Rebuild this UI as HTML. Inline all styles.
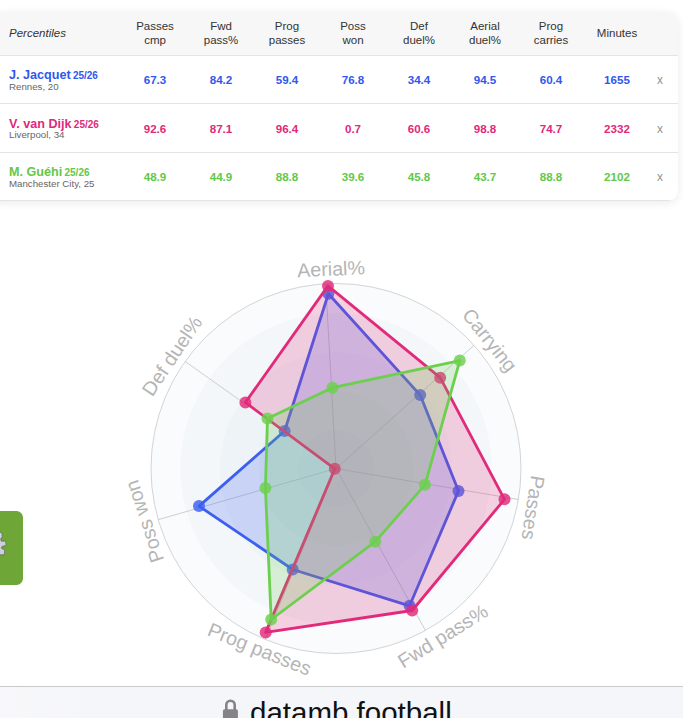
<!DOCTYPE html>
<html><head><meta charset="utf-8"><style>
html,body{margin:0;padding:0;}
body{width:683px;height:718px;overflow:hidden;background:#fff;font-family:"Liberation Sans",sans-serif;position:relative;}
.card{position:absolute;left:-10px;top:12px;width:688px;height:189px;border-radius:10px;background:#fff;box-shadow:0 2px 10px rgba(0,0,0,0.085);overflow:hidden;}
.hdr{position:absolute;left:0;top:0;width:100%;height:43px;background:#f7f7f7;border-bottom:1px solid #e4e4e4;}
.hdr .p{position:absolute;left:19px;top:15px;font-size:11.5px;font-style:italic;color:#333;}
.c{position:absolute;width:66px;text-align:center;font-size:11.5px;line-height:14px;color:#333;top:7px;}
.row{position:absolute;left:0;width:100%;height:47px;border-bottom:1px solid #e4e4e4;}
.n{position:absolute;left:19px;top:12px;white-space:nowrap;}
.nm{font-size:12.6px;font-weight:bold;line-height:14px;}
.nm span{font-size:10px;margin-left:2.3px;}
.sub{font-size:9.7px;color:#666;line-height:10px;margin-top:-1.3px;}
.v{font-weight:bold;font-size:11.6px;color:inherit;top:17px;}
.x{position:absolute;left:660px;width:20px;text-align:center;top:17.3px;font-size:12px;color:#929292;}
.tab{position:absolute;left:-10px;top:511px;width:33px;height:73.5px;border-radius:6.5px;background:#6fa638;}
.bar{position:absolute;left:0;top:685.5px;width:683px;height:33px;background:linear-gradient(90deg,#f8f8fb 0%,#f5f6fa 12%,#f5f6fa 100%);border-top:1px solid #c9cacd;}
.bar .t{position:absolute;left:250px;top:9.4px;font-size:29.5px;line-height:33px;color:#111;white-space:nowrap;}
</style></head><body>
<div class="card">
<div class="hdr"><div class="p">Percentiles</div><div class="c" style="left:132px">Passes<br>cmp</div><div class="c" style="left:198px">Fwd<br>pass%</div><div class="c" style="left:264px">Prog<br>passes</div><div class="c" style="left:330px">Poss<br>won</div><div class="c" style="left:396px">Def<br>duel%</div><div class="c" style="left:462px">Aerial<br>duel%</div><div class="c" style="left:528px">Prog<br>carries</div><div class="c" style="left:594px;top:14px">Minutes</div></div>
<div class="row" style="color:#3058ee;top:44.0px"><div class="n"><div class="nm">J. Jacquet<span>25/26</span></div><div class="sub">Rennes, 20</div></div><div class="c v" style="left:132px">67.3</div><div class="c v" style="left:198px">84.2</div><div class="c v" style="left:264px">59.4</div><div class="c v" style="left:330px">76.8</div><div class="c v" style="left:396px">34.4</div><div class="c v" style="left:462px">94.5</div><div class="c v" style="left:528px">60.4</div><div class="c v" style="left:594px">1655</div><div class="x">x</div></div>
<div class="row" style="color:#e0297a;top:92.5px"><div class="n"><div class="nm">V. van Dijk<span>25/26</span></div><div class="sub">Liverpool, 34</div></div><div class="c v" style="left:132px">92.6</div><div class="c v" style="left:198px">87.1</div><div class="c v" style="left:264px">96.4</div><div class="c v" style="left:330px">0.7</div><div class="c v" style="left:396px">60.6</div><div class="c v" style="left:462px">98.8</div><div class="c v" style="left:528px">74.7</div><div class="c v" style="left:594px">2332</div><div class="x">x</div></div>
<div class="row" style="color:#63c846;top:141.0px"><div class="n"><div class="nm">M. Guéhi<span>25/26</span></div><div class="sub">Manchester City, 25</div></div><div class="c v" style="left:132px">48.9</div><div class="c v" style="left:198px">44.9</div><div class="c v" style="left:264px">88.8</div><div class="c v" style="left:330px">39.6</div><div class="c v" style="left:396px">45.8</div><div class="c v" style="left:462px">43.7</div><div class="c v" style="left:528px">88.8</div><div class="c v" style="left:594px">2102</div><div class="x">x</div></div>

</div>
<svg width="683" height="718" style="position:absolute;left:0;top:0" font-family="Liberation Sans, sans-serif">
<circle cx="336.0" cy="468.5" r="185" fill="rgba(110,160,195,0.045)"/>
<circle cx="336.0" cy="468.5" r="155.6" fill="rgba(110,160,195,0.045)"/>
<circle cx="336.0" cy="468.5" r="116" fill="rgba(110,160,195,0.045)"/>
<circle cx="336.0" cy="468.5" r="77" fill="rgba(110,160,195,0.045)"/>
<circle cx="336.0" cy="468.5" r="38" fill="rgba(110,160,195,0.045)"/>
<circle cx="336.0" cy="468.5" r="185.0" fill="none" stroke="#d2d4d6" stroke-width="1"/>
<line x1="336.0" y1="468.5" x2="325.7" y2="283.8" stroke="#c8c8c8" stroke-width="0.9"/>
<line x1="336.0" y1="468.5" x2="474.0" y2="345.3" stroke="#c8c8c8" stroke-width="0.9"/>
<line x1="336.0" y1="468.5" x2="518.4" y2="499.5" stroke="#c8c8c8" stroke-width="0.9"/>
<line x1="336.0" y1="468.5" x2="425.4" y2="630.4" stroke="#c8c8c8" stroke-width="0.9"/>
<line x1="336.0" y1="468.5" x2="265.2" y2="639.4" stroke="#c8c8c8" stroke-width="0.9"/>
<line x1="336.0" y1="468.5" x2="158.2" y2="519.7" stroke="#c8c8c8" stroke-width="0.9"/>
<line x1="336.0" y1="468.5" x2="185.1" y2="361.4" stroke="#c8c8c8" stroke-width="0.9"/>
<polygon points="328.4,293.8 420.2,395.1 458.5,490.9 409.6,605.8 292.7,569.5 199.0,506.1 284.6,431.0" fill="rgba(60,95,240,0.21)" stroke="#3c5ff0" stroke-width="2.8" stroke-linejoin="round"/>
<circle cx="328.4" cy="293.8" r="6" fill="#3c5ff0" fill-opacity="0.82"/>
<circle cx="420.2" cy="395.1" r="6" fill="#3c5ff0" fill-opacity="0.82"/>
<circle cx="458.5" cy="490.9" r="6" fill="#3c5ff0" fill-opacity="0.82"/>
<circle cx="409.6" cy="605.8" r="6" fill="#3c5ff0" fill-opacity="0.82"/>
<circle cx="292.7" cy="569.5" r="6" fill="#3c5ff0" fill-opacity="0.82"/>
<circle cx="199.0" cy="506.1" r="6" fill="#3c5ff0" fill-opacity="0.82"/>
<circle cx="284.6" cy="431.0" r="6" fill="#3c5ff0" fill-opacity="0.82"/>
<polygon points="328.0,285.9 440.2,377.7 504.5,499.3 412.2,610.5 265.7,632.4 334.8,468.8 245.4,402.5" fill="rgba(225,42,122,0.20)" stroke="#e12a7a" stroke-width="2.8" stroke-linejoin="round"/>
<circle cx="328.0" cy="285.9" r="6" fill="#e12a7a" fill-opacity="0.82"/>
<circle cx="440.2" cy="377.7" r="6" fill="#e12a7a" fill-opacity="0.82"/>
<circle cx="504.5" cy="499.3" r="6" fill="#e12a7a" fill-opacity="0.82"/>
<circle cx="412.2" cy="610.5" r="6" fill="#e12a7a" fill-opacity="0.82"/>
<circle cx="265.7" cy="632.4" r="6" fill="#e12a7a" fill-opacity="0.82"/>
<circle cx="334.8" cy="468.8" r="6" fill="#e12a7a" fill-opacity="0.82"/>
<circle cx="245.4" cy="402.5" r="6" fill="#e12a7a" fill-opacity="0.82"/>
<polygon points="332.5,387.7 459.8,360.6 425.0,484.8 375.3,541.7 271.2,619.5 265.4,487.9 267.5,418.6" fill="rgba(108,207,78,0.21)" stroke="#6ccf4e" stroke-width="2.8" stroke-linejoin="round"/>
<circle cx="332.5" cy="387.7" r="6" fill="#6ccf4e" fill-opacity="0.82"/>
<circle cx="459.8" cy="360.6" r="6" fill="#6ccf4e" fill-opacity="0.82"/>
<circle cx="425.0" cy="484.8" r="6" fill="#6ccf4e" fill-opacity="0.82"/>
<circle cx="375.3" cy="541.7" r="6" fill="#6ccf4e" fill-opacity="0.82"/>
<circle cx="271.2" cy="619.5" r="6" fill="#6ccf4e" fill-opacity="0.82"/>
<circle cx="265.4" cy="487.9" r="6" fill="#6ccf4e" fill-opacity="0.82"/>
<circle cx="267.5" cy="418.6" r="6" fill="#6ccf4e" fill-opacity="0.82"/>
<text x="331.3" y="275.7" transform="rotate(-2.5 331.3 275.7)" text-anchor="middle" font-size="19.7" fill="#b5b5b5">Aerial%</text>
<text x="484.4" y="344.3" transform="rotate(51.5 484.4 344.3)" text-anchor="middle" font-size="19.7" fill="#b5b5b5">Carrying</text>
<text x="526.3" y="506.7" transform="rotate(98.7 526.3 506.7)" text-anchor="middle" font-size="19.7" fill="#b5b5b5">Passes</text>
<text x="446.4" y="641.9" transform="rotate(-32.0 446.4 641.9)" text-anchor="middle" font-size="19.7" fill="#b5b5b5">Fwd pass%</text>
<text x="257.0" y="655.5" transform="rotate(21.9 257.0 655.5)" text-anchor="middle" font-size="19.7" fill="#b5b5b5">Prog passes</text>
<text x="150.9" y="519.3" transform="rotate(251.6 150.9 519.3)" text-anchor="middle" font-size="19.7" fill="#b5b5b5">Poss won</text>
<text x="177.7" y="359.7" transform="rotate(303.9 177.7 359.7)" text-anchor="middle" font-size="19.7" fill="#b5b5b5">Def duel%</text>
</svg>
<div class="tab"></div>
<svg style="position:absolute;left:0;top:528px" width="12" height="32" viewBox="0 528 12 32"><path d="M-2 532 L1.8 532.6 L2.3 536.8 L0.6 539 L1.4 541.3 L5.6 541 L6.1 545.6 L2.2 546.3 L1.3 548.2 L4.7 550 L4.4 554.8 L0 554.8 L-2 555 Z" fill="#c9d0da" stroke="#555" stroke-width="0.6"/></svg>
<div class="bar"><div class="t">datamb.football</div>
<svg style="position:absolute;left:220px;top:9.4px" width="22" height="24" viewBox="220 696.5 22 24"><rect x="222.9" y="709.7" width="15" height="12" rx="1.8" fill="#838388"/><path d="M226.3 711 V705.5 a4.2 4.2 0 0 1 8.4 0 V711" fill="none" stroke="#838388" stroke-width="2.6"/></svg>
</div>
</body></html>
